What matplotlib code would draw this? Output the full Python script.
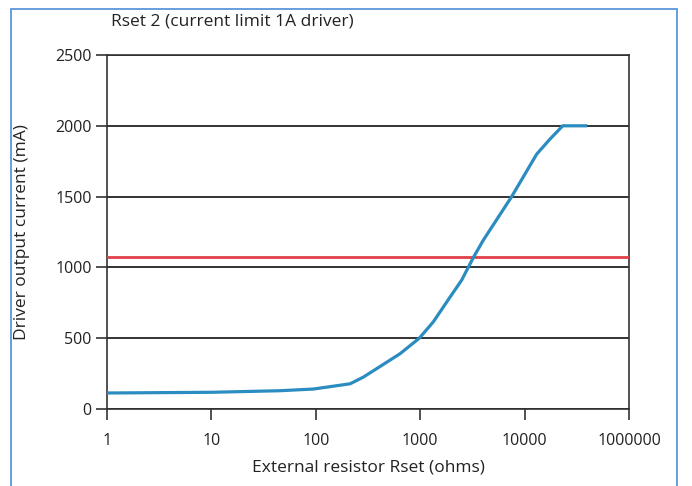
import numpy as np
import matplotlib.pyplot as plt
from matplotlib.patches import Rectangle

plt.rcParams['font.family'] = ['Open Sans', 'DejaVu Sans']

# Значения
rset_ohms = [1, 10, 45, 95, 213, 285, 412, 640, 980, 1334, 1930, 2500,
             3230, 4020, 7520, 9730, 13060, 17500, 23200, 38500]
current_ma = [113, 118, 129, 141, 178, 225, 300, 390, 500, 615, 790, 911,
              1070, 1192, 1500, 1640, 1800, 1906, 2000, 2000]
limit_ma = 1070
y_ticks = [0, 500, 1000, 1500, 2000, 2500]
x_ticks = [1, 10, 100, 1000, 10000, 100000]
x_tick_labels = ['1', '10', '100', '1000', '10000', '1000000']

fig = plt.figure(figsize=(6.92, 4.86), dpi=100)
ax = fig.add_axes([107 / 692, 1 - 409 / 486, (629 - 107) / 692, (409 - 55) / 486])

# Рамка вокруг всей картинки
fig.patches.append(Rectangle((11 / 692, -0.02), (677 - 11) / 692, 1 - 9 / 486 + 0.02,
                             transform=fig.transFigure, fill=False,
                             edgecolor='#4a8fd8', linewidth=1.2))

ax.set_xscale('log')
ax.set_xlim(1, 100000)
ax.set_ylim(0, 2500)

ax.axhline(limit_ma, color='#e0404a', linewidth=2, zorder=3)
ax.plot(rset_ohms, current_ma, color='#2a8cc0', linewidth=2.3, zorder=4)

ax.set_yticks(y_ticks)
ax.set_xticks(x_ticks)
ax.set_xticklabels(x_tick_labels)
ax.minorticks_off()
ax.yaxis.grid(True, color='#333333', linewidth=1.4)
ax.set_axisbelow(True)

for s in ax.spines.values():
    s.set_color('#333333')
    s.set_linewidth(1.2)

ax.tick_params(axis='both', direction='out', length=8, width=1.2, color='#333333',
               labelsize=11.5, labelcolor='#222222')
ax.tick_params(axis='x', pad=9)
ax.tick_params(axis='y', pad=3)

ax.set_xlabel('External resistor Rset (ohms)', fontsize=12.5, color='#222222', labelpad=8)
ax.set_ylabel('Driver output current (mA)', fontsize=12.5, color='#222222', labelpad=18)
fig.text(111 / 692, 1 - 22 / 486, 'Rset 2 (current limit 1A driver)', fontsize=12.5,
         color='#222222', va='center', ha='left')

fig.savefig('out.png', dpi=100)
